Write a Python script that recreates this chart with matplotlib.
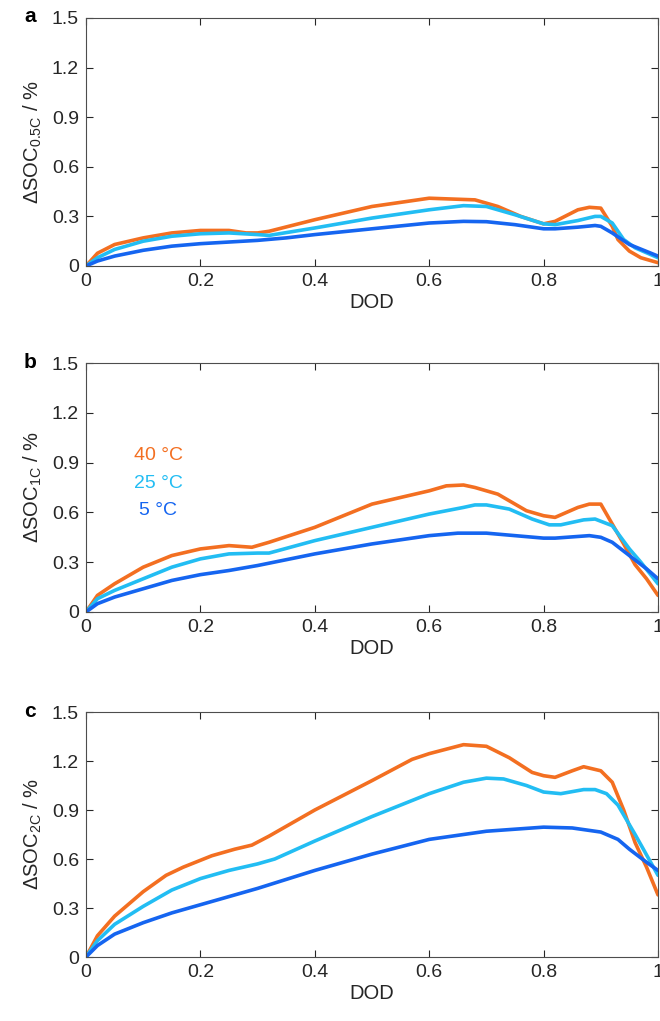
import matplotlib
matplotlib.use("Agg")
import matplotlib.pyplot as plt

plt.rcParams['font.family'] = ['Liberation Sans', 'DejaVu Sans']
plt.rcParams['mathtext.fontset'] = 'custom'
plt.rcParams['mathtext.rm'] = 'Liberation Sans'
plt.rcParams['mathtext.it'] = 'Liberation Sans'

# ---- data ----
# panel a (0.5C)
a40_x = [0, 0.02, 0.05, 0.1, 0.15, 0.2, 0.25, 0.28, 0.3, 0.32, 0.4, 0.5, 0.6, 0.68, 0.72, 0.76, 0.8, 0.82, 0.86, 0.88, 0.9, 0.92, 0.93, 0.95, 0.97, 1.0]
a40_y = [0, 0.077, 0.13, 0.17, 0.20, 0.215, 0.215, 0.20, 0.20, 0.21, 0.28, 0.36, 0.41, 0.40, 0.36, 0.30, 0.255, 0.27, 0.34, 0.355, 0.35, 0.24, 0.16, 0.09, 0.05, 0.02]
a25_x = [0, 0.02, 0.05, 0.1, 0.15, 0.2, 0.25, 0.3, 0.32, 0.4, 0.5, 0.6, 0.66, 0.7, 0.75, 0.8, 0.82, 0.86, 0.89, 0.9, 0.92, 0.94, 0.96, 1.0]
a25_y = [0, 0.05, 0.10, 0.15, 0.18, 0.195, 0.20, 0.19, 0.185, 0.23, 0.29, 0.34, 0.365, 0.36, 0.31, 0.255, 0.25, 0.275, 0.30, 0.30, 0.26, 0.16, 0.11, 0.05]
a5_x = [0, 0.02, 0.05, 0.1, 0.15, 0.2, 0.25, 0.3, 0.35, 0.4, 0.5, 0.6, 0.66, 0.7, 0.75, 0.8, 0.82, 0.86, 0.89, 0.9, 0.92, 0.95, 1.0]
a5_y = [0, 0.03, 0.06, 0.095, 0.12, 0.135, 0.145, 0.155, 0.17, 0.19, 0.225, 0.26, 0.27, 0.268, 0.25, 0.225, 0.225, 0.235, 0.245, 0.24, 0.20, 0.13, 0.06]

# panel b (1C)
b40_x = [0, 0.02, 0.05, 0.1, 0.15, 0.2, 0.25, 0.29, 0.32, 0.4, 0.5, 0.6, 0.63, 0.66, 0.68, 0.72, 0.77, 0.8, 0.82, 0.86, 0.88, 0.9, 0.92, 0.94, 0.96, 0.98, 1.0]
b40_y = [0, 0.10, 0.17, 0.27, 0.34, 0.38, 0.40, 0.39, 0.42, 0.51, 0.65, 0.73, 0.76, 0.765, 0.75, 0.71, 0.61, 0.58, 0.57, 0.63, 0.65, 0.65, 0.53, 0.41, 0.285, 0.20, 0.10]
b25_x = [0, 0.02, 0.05, 0.1, 0.15, 0.2, 0.25, 0.3, 0.32, 0.4, 0.5, 0.6, 0.66, 0.68, 0.7, 0.74, 0.78, 0.81, 0.83, 0.87, 0.89, 0.92, 0.95, 0.97, 1.0]
b25_y = [0, 0.08, 0.13, 0.20, 0.27, 0.32, 0.35, 0.355, 0.355, 0.43, 0.51, 0.59, 0.63, 0.645, 0.645, 0.62, 0.56, 0.525, 0.525, 0.555, 0.56, 0.52, 0.38, 0.30, 0.17]
b5_x = [0, 0.02, 0.05, 0.1, 0.15, 0.2, 0.25, 0.3, 0.35, 0.4, 0.5, 0.6, 0.65, 0.7, 0.75, 0.8, 0.82, 0.88, 0.9, 0.92, 0.95, 0.98, 1.0]
b5_y = [0, 0.05, 0.09, 0.14, 0.19, 0.225, 0.25, 0.28, 0.315, 0.35, 0.41, 0.46, 0.475, 0.475, 0.46, 0.445, 0.445, 0.46, 0.45, 0.42, 0.34, 0.26, 0.20]

# panel c (2C)
c40_x = [0, 0.02, 0.05, 0.1, 0.14, 0.17, 0.22, 0.26, 0.29, 0.32, 0.4, 0.5, 0.57, 0.6, 0.66, 0.7, 0.74, 0.78, 0.8, 0.82, 0.85, 0.87, 0.9, 0.92, 0.94, 0.96, 0.98, 1.0]
c40_y = [0, 0.13, 0.25, 0.40, 0.50, 0.55, 0.62, 0.66, 0.685, 0.74, 0.90, 1.08, 1.21, 1.245, 1.30, 1.29, 1.22, 1.13, 1.11, 1.10, 1.14, 1.165, 1.14, 1.07, 0.90, 0.70, 0.55, 0.38]
c25_x = [0, 0.02, 0.05, 0.1, 0.15, 0.2, 0.25, 0.3, 0.33, 0.4, 0.5, 0.6, 0.66, 0.7, 0.73, 0.77, 0.8, 0.83, 0.87, 0.89, 0.91, 0.93, 0.96, 1.0]
c25_y = [0, 0.10, 0.20, 0.31, 0.41, 0.48, 0.53, 0.57, 0.60, 0.71, 0.86, 1.00, 1.07, 1.095, 1.09, 1.05, 1.01, 1.00, 1.025, 1.025, 1.00, 0.93, 0.75, 0.50]
c5_x = [0, 0.02, 0.05, 0.1, 0.15, 0.2, 0.3, 0.4, 0.5, 0.6, 0.7, 0.8, 0.85, 0.9, 0.93, 0.95, 0.98, 1.0]
c5_y = [0, 0.07, 0.14, 0.21, 0.27, 0.32, 0.42, 0.53, 0.63, 0.72, 0.77, 0.795, 0.79, 0.765, 0.72, 0.66, 0.58, 0.53]

x_ticks = [0, 0.2, 0.4, 0.6, 0.8, 1.0]
x_tick_labels = ["0", "0.2", "0.4", "0.6", "0.8", "1"]
y_ticks = [0, 0.3, 0.6, 0.9, 1.2, 1.5]
y_tick_labels = ["0", "0.3", "0.6", "0.9", "1.2", "1.5"]
temps = ["40 °C", "25 °C", "5 °C"]
temp_label_y = [0.94, 0.775, 0.612]
panel_letters = ["a", "b", "c"]
ylabels = [r"$\Delta$SOC$_{\mathrm{0.5C}}$ / %", r"$\Delta$SOC$_{\mathrm{1C}}$ / %", r"$\Delta$SOC$_{\mathrm{2C}}$ / %"]

colors = ["#F36F21", "#22BDF3", "#1565F0"]
axis_color = "#262626"

panels = [
    [(a40_x, a40_y), (a25_x, a25_y), (a5_x, a5_y)],
    [(b40_x, b40_y), (b25_x, b25_y), (b5_x, b5_y)],
    [(c40_x, c40_y), (c25_x, c25_y), (c5_x, c5_y)],
]

fig = plt.figure(figsize=(6.6, 10.21), dpi=100)
W, H = 660, 1021
boxes = [(18, 266), (363, 612), (712, 957)]
left_px, right_px = 86, 658

for i, ((top, bot), series) in enumerate(zip(boxes, panels)):
    ax = fig.add_axes([left_px / W, 1 - bot / H, (right_px - left_px) / W, (bot - top) / H])
    for (xs, ys), c in zip(series, colors):
        ax.plot(xs, ys, color=c, lw=2.6, solid_joinstyle='round', solid_capstyle='round')
    ax.set_xlim(0, 1)
    ax.set_ylim(0, 1.5)
    ax.set_xticks(x_ticks)
    ax.set_xticklabels(x_tick_labels)
    ax.set_yticks(y_ticks)
    ax.set_yticklabels(y_tick_labels)
    ax.tick_params(direction='in', top=True, right=True, length=5, width=0.8,
                   labelsize=14, colors=axis_color, pad=5)
    for sp in ax.spines.values():
        sp.set_color("#4d4d4d")
        sp.set_linewidth(0.8)
    ax.set_xlabel("DOD", fontsize=14.5, color=axis_color, labelpad=2)
    ax.set_ylabel(ylabels[i], fontsize=14.5, color=axis_color, labelpad=6)
    fig.text(30 / W, 1 - (top - 1) / H, panel_letters[i], fontsize=15, fontweight='bold',
             ha='center', va='center', color='black')
    if i == 1:
        for t, c, yv in zip(temps, colors, temp_label_y):
            ax.text(0.126, yv, t, color=c, fontsize=14, ha='center', va='center',
                    transform=ax.transData)

fig.savefig("out.png", dpi=100)
